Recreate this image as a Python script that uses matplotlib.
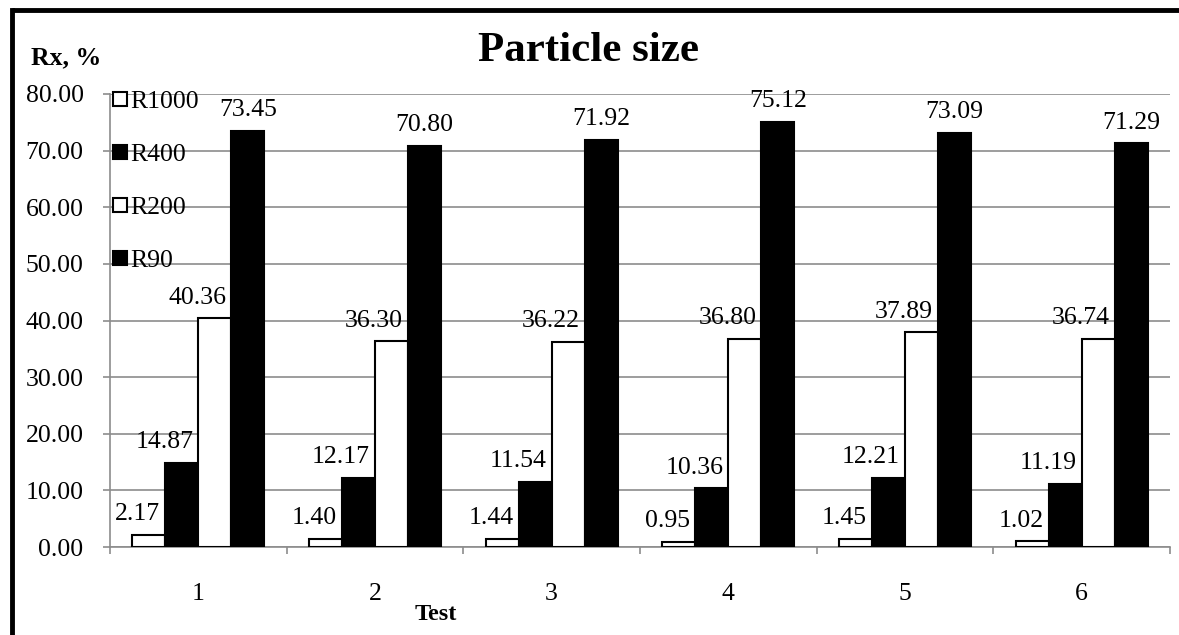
import numpy as np
import matplotlib
matplotlib.use("Agg")
from matplotlib import pyplot as plt
from matplotlib.lines import Line2D

plt.rcParams['font.family'] = ['Liberation Serif', 'DejaVu Serif']

# Data
tests = ["1", "2", "3", "4", "5", "6"]
r1000 = [2.17, 1.40, 1.44, 0.95, 1.45, 1.02]
r400 = [14.87, 12.17, 11.54, 10.36, 12.21, 11.19]
r200 = [40.36, 36.30, 36.22, 36.80, 37.89, 36.74]
r90 = [73.45, 70.80, 71.92, 75.12, 73.09, 71.29]
series_names = ["R1000", "R400", "R200", "R90"]
series_colors = ["white", "black", "white", "black"]

fig = plt.figure(figsize=(11.79, 6.35), dpi=100, facecolor="white")
ax = fig.add_axes([110 / 1179, 1 - 547 / 635, 1060 / 1179, 453 / 635])

x = np.arange(len(tests))
w = 0.187
grid_col = "#8c8c8c"

for i, (vals, col) in enumerate(zip([r1000, r400, r200, r90], series_colors)):
    pos = x + (i - 1.5) * w
    bars = ax.bar(pos, vals, width=w, color=col, edgecolor="black", linewidth=1.5, zorder=3)
    for b, v in zip(bars, vals):
        if i < 3:
            ax.annotate(f"{v:.2f}", (b.get_x() + b.get_width(), v), xytext=(-3.5, 7),
                        textcoords="offset points", ha="right", va="bottom", fontsize=18.5)
        else:
            ax.annotate(f"{v:.2f}", (b.get_x() + b.get_width() / 2, v), xytext=(0, 7),
                        textcoords="offset points", ha="center", va="bottom", fontsize=18.5)

ax.set_xlim(-0.5, len(tests) - 0.5)
ax.set_ylim(0, 80)
ax.set_yticks(np.arange(0, 81, 10))
ax.set_yticklabels([f"{t:.2f}" for t in np.arange(0, 81, 10)], fontsize=18.5)
ax.set_xticks(x)
ax.set_xticklabels(tests, fontsize=18.5)
ax.set_xticks(np.arange(-0.5, len(tests), 1), minor=True)
ax.tick_params(axis="x", which="major", length=0, pad=26)
ax.tick_params(axis="x", which="minor", length=5, color=grid_col, width=1.2)
ax.tick_params(axis="y", length=5, color=grid_col, width=1.2, pad=14)
ax.yaxis.grid(True, color=grid_col, linewidth=1.2, zorder=0)
ax.set_axisbelow(True)
for s in ["top", "right"]:
    ax.spines[s].set_visible(False)
for s in ["left", "bottom"]:
    ax.spines[s].set_color(grid_col)
    ax.spines[s].set_linewidth(1.2)

handles = [Line2D([], [], linestyle="none", marker="s", markersize=10,
                  markerfacecolor=c, markeredgecolor="black", markeredgewidth=1.5)
           for c in series_colors]
ax.legend(handles, series_names, loc="upper left", bbox_to_anchor=(0.0, 1.015),
          frameon=False, fontsize=18.5, handlelength=0.6, handletextpad=0.1,
          labelspacing=1.17, borderpad=0, borderaxespad=0.1)

fig.text(0.499, 0.92, "Particle size", ha="center", va="center", fontsize=31, fontweight="bold")
fig.text(31 / 1179, 1 - 58 / 635, "Rx, %", ha="left", va="center", fontsize=18.5, fontweight="bold")
fig.text(436 / 1179, 1 - 615 / 635, "Test", ha="center", va="center", fontsize=17.5, fontweight="bold")

# outer frame: only the top and left edges
fig.add_artist(Line2D([12 / 1179, 12 / 1179], [0.0, 1 - 10 / 635],
                      transform=fig.transFigure, color="black", linewidth=3.5))
fig.add_artist(Line2D([12 / 1179, 1.0], [1 - 10 / 635, 1 - 10 / 635],
                      transform=fig.transFigure, color="black", linewidth=3.5,
                      solid_capstyle="butt"))

fig.savefig("out.png", dpi=100, facecolor="white")
